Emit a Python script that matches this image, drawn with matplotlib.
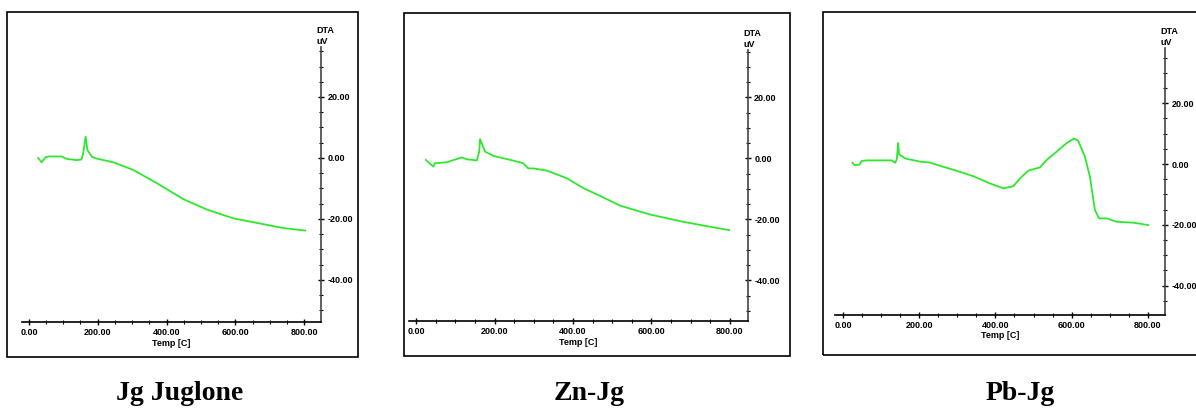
import matplotlib

matplotlib.use("Agg")
import matplotlib.pyplot as plt
from matplotlib.patches import Rectangle
from matplotlib.ticker import MultipleLocator, FormatStrFormatter

W, H = 1196, 408

# Jg Juglone
jg_temp = [27, 37, 48, 58, 95, 110, 139, 153, 158, 165, 170, 183, 197, 245, 303, 371, 449, 517, 594, 672, 740, 803]
jg_dta = [0.0, -1.4, 0.2, 0.5, 0.5, -0.3, -0.7, -0.5, 1.7, 7.0, 2.6, 0.4, -0.2, -1.4, -3.9, -8.2, -13.5, -16.9, -19.8, -21.5, -23.0, -23.8]

# Zn-Jg
zn_temp = [25, 36, 44, 48, 78, 116, 129, 155, 161, 163, 176, 197, 240, 273, 286, 299, 333, 384, 427, 469, 520, 596, 681, 749, 798]
zn_dta = [-0.5, -1.8, -2.7, -1.6, -1.3, 0.3, -0.3, -0.7, 2.2, 6.3, 2.2, 0.8, -0.5, -1.6, -3.3, -3.3, -4.0, -6.5, -9.8, -12.3, -15.5, -18.4, -20.8, -22.4, -23.5]

# Pb-Jg
pb_temp = [25, 31, 43, 49, 62, 128, 137, 141, 145, 147, 164, 202, 228, 255, 298, 342, 386, 421, 447, 464, 486,
           517, 534, 560, 586, 606, 617, 635, 648, 661, 672, 692, 718, 762, 801]
pb_dta = [0.4, -0.4, -0.2, 1.0, 1.2, 1.2, 0.4, 1.5, 6.9, 3.2, 1.8, 0.8, 0.5, -0.6, -2.2, -4.0, -6.4, -8.0, -7.3, -4.8, -2.2,
          -1.1, 1.3, 4.0, 6.8, 8.4, 7.7, 2.4, -4.2, -15.1, -17.9, -17.9, -19.0, -19.3, -20.1]

x_ticks = [0, 200, 400, 600, 800]
y_ticks = [-40, 20, 0, -20]
captions = ["Jg Juglone", "Zn-Jg", "Pb-Jg"]

# pixel layout: outer box, axes box (left, top, right, bottom), x/y limits
panels = [
    dict(box=(7, 12, 358, 357), ax=(22, 47, 321, 322), xlim=(-20, 849), ylim=(-53.8, 36.4), cap_x=180,
         temp=jg_temp, dta=jg_dta),
    dict(box=(404, 13, 790, 356), ax=(409, 50, 748, 321), xlim=(-18, 846), ylim=(-53.3, 35.5), cap_x=589,
         temp=zn_temp, dta=zn_dta),
    dict(box=(823, 12, 1210, 355), ax=(835, 48, 1165, 315), xlim=(-21, 845), ylim=(-49.7, 38.2), cap_x=1020,
         temp=pb_temp, dta=pb_dta),
]

tick_font = dict(family="Liberation Sans", size=6.5, weight="bold")

fig = plt.figure(figsize=(W / 100, H / 100), dpi=100)

for p, cap in zip(panels, captions):
    bx0, by0, bx1, by1 = p["box"]
    fig.patches.append(Rectangle((bx0 / W, 1 - by1 / H), (bx1 - bx0) / W, (by1 - by0) / H,
                                 transform=fig.transFigure, fill=False, edgecolor="black", linewidth=1.2))
    l, t, r, b = p["ax"]
    ax = fig.add_axes([l / W, 1 - b / H, (r - l) / W, (b - t) / H])
    ax.patch.set_alpha(0)
    ax.plot(p["temp"], p["dta"], color="#2ee82e", linewidth=1.3)
    ax.set_xlim(*p["xlim"])
    ax.set_ylim(*p["ylim"])
    ax.spines["top"].set_visible(False)
    ax.spines["left"].set_visible(False)
    ax.spines["bottom"].set_linewidth(1.2)
    ax.spines["right"].set_linewidth(1.2)
    ax.spines["right"].set_color("#444444")
    ax.yaxis.tick_right()
    ax.set_xticks(x_ticks)
    ax.set_yticks(y_ticks)
    ax.xaxis.set_major_formatter(FormatStrFormatter("%.2f"))
    ax.yaxis.set_major_formatter(FormatStrFormatter("%.2f"))
    ax.xaxis.set_minor_locator(MultipleLocator(50))
    ax.yaxis.set_minor_locator(MultipleLocator(5))
    ax.tick_params(axis="both", which="major", direction="inout", length=5, width=1, pad=2)
    ax.tick_params(axis="both", which="minor", direction="inout", length=3, width=0.8)
    for lab in ax.get_xticklabels() + ax.get_yticklabels():
        lab.set_fontproperties(tick_font)
    ax.text(0.5, -0.078, "Temp [C]", transform=ax.transAxes, ha="center", va="center", **tick_font)
    ax.annotate("DTA\nuV", xy=(1.0, 1.0), xycoords="axes fraction", xytext=(-3, 1), textcoords="offset points",
                ha="left", va="bottom", linespacing=1.25, **tick_font)
    fig.text(p["cap_x"] / W, 1 - 393 / H, cap, ha="center", va="center",
             family="Liberation Serif", weight="bold", size=20)

fig.savefig("out.png", dpi=100)
